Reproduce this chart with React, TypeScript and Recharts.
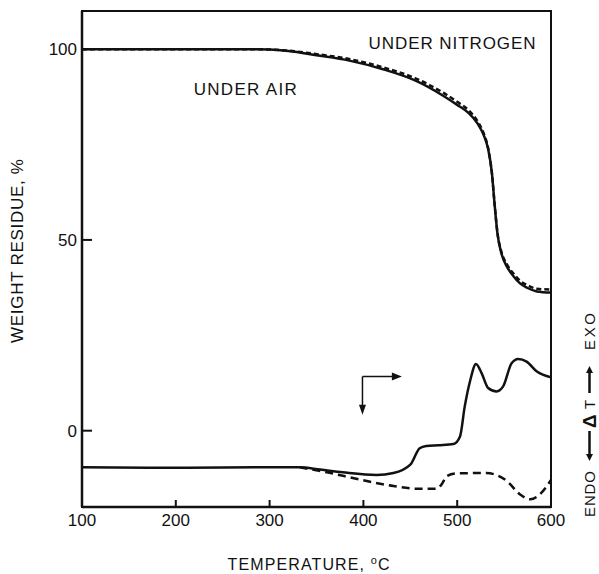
import {
  LineChart, Line, XAxis, YAxis, ReferenceArea, ReferenceLine, ReferenceDot,
} from "recharts";

const TGA_TEMP = [100, 200, 280, 300, 320, 350, 385, 420, 455, 485, 500, 512, 522, 528, 533, 537, 540, 543, 547, 553, 560, 567, 575, 585, 600];
const TGA_AIR = [100, 100, 100, 99.9, 99.5, 98.4, 97.0, 94.8, 91.8, 87.8, 85.4, 83.3, 80.4, 77.6, 73.8, 67.5, 59.0, 51.5, 46.6, 43.0, 40.5, 38.6, 37.4, 36.5, 36.2];
const TGA_N2 = [100, 100, 100, 99.9, 99.6, 98.7, 97.4, 95.3, 92.4, 88.6, 86.2, 84.0, 81.0, 78.1, 74.0, 67.5, 59.0, 51.7, 47.0, 43.6, 41.2, 39.3, 38.1, 37.2, 37.0];

const DTA_AIR_TEMP = [100, 200, 300, 332, 354, 378, 414, 432, 450, 460, 467, 480, 496, 503, 508, 514, 520, 526, 533, 542, 549, 558, 565, 574, 585, 600];
const DTA_AIR = [-9.6, -9.7, -9.6, -9.6, -10.2, -10.9, -11.6, -11.1, -8.9, -4.6, -4.0, -3.8, -3.5, -1.5, 6.3, 13.3, 17.5, 15.1, 11.2, 10.3, 11.6, 17.7, 18.8, 18.1, 15.5, 14.0];

const DTA_N2_TEMP = [332, 361, 396, 432, 457, 478, 483, 489, 499, 531, 553, 567, 578, 588, 600];
const DTA_N2 = [-9.6, -10.9, -12.8, -14.5, -15.2, -15.2, -14.2, -11.9, -11.2, -11.1, -13.2, -16.7, -18.0, -16.7, -12.9];

const X_TICKS = [100, 200, 300, 400, 500, 600];
const Y_TICKS = [0, 50, 100];

const FONT = "'Liberation Sans', Arial, sans-serif";
const INK = "#111";

const zip = (xs: number[], ys: number[]) => xs.map((t, i) => ({ t, v: ys[i] }));

// ─── Axis titles ──────────────────────────────────────────────────────────────
const XTitle = ({ viewBox }: any) => (
  <text
    x={viewBox.x + viewBox.width / 2 - 8}
    y={viewBox.y + 63}
    textAnchor="middle"
    fontSize={16}
    fontFamily={FONT}
    fill={INK}
    textLength={162}
  >
    TEMPERATURE, <tspan dy={-6} fontSize={11}>o</tspan><tspan dy={6}>C</tspan>
  </text>
);

const YTitle = () => (
  <text
    x={0}
    y={0}
    transform="translate(23, 251) rotate(-90)"
    textAnchor="middle"
    fontSize={17}
    fontFamily={FONT}
    fill={INK}
    textLength={184}
  >
    WEIGHT RESIDUE, %
  </text>
);

// ENDO ← ΔT → EXO, read bottom to top; arrows drawn as thick strokes like the scan
const RightTitle = () => {
  const t = { fontSize: 15, fontFamily: FONT, fill: INK };
  return (
    <g transform="translate(595, 417) rotate(-90)">
      <text x={-100} y={0} {...t} textLength={46}>ENDO</text>
      <line x1={-14} y1={-5.5} x2={-38} y2={-5.5} stroke={INK} strokeWidth={2.5} />
      <polygon points="-44,-5.5 -37,-9 -37,-2" fill={INK} />
      <text x={-11} y={1} fontSize={19} fontWeight="bold" fontFamily={FONT} fill={INK}>Δ</text>
      <text x={8} y={0} {...t}>T</text>
      <line x1={24} y1={-5.5} x2={45} y2={-5.5} stroke={INK} strokeWidth={2.5} />
      <polygon points="51,-5.5 44,-9 44,-2" fill={INK} />
      <text x={67} y={0} {...t} textLength={37}>EXO</text>
    </g>
  );
};

// ─── Annotation helpers ──────────────────────────────────────────────────────
const note = (value: string, width: number) => (p: any) => (
  <text
    x={p.cx}
    y={p.cy}
    textAnchor="middle"
    dominantBaseline="central"
    fontSize={17}
    fontFamily={FONT}
    fill={INK}
    textLength={width}
  >
    {value}
  </text>
);

const headRight = (p: any) => (
  <polygon points={`${p.cx},${p.cy} ${p.cx - 10},${p.cy - 4} ${p.cx - 10},${p.cy + 4}`} fill={INK} />
);
const headDown = (p: any) => (
  <polygon points={`${p.cx},${p.cy} ${p.cx - 3.5},${p.cy - 10} ${p.cx + 3.5},${p.cy - 10}`} fill={INK} />
);

// ─── Component ────────────────────────────────────────────────────────────────
export default function App() {
  return (
    <div style={{ position: "absolute", left: 0, top: 0, background: "#fff" }}>
      <LineChart width={599} height={574} margin={{ top: 11, right: 0, bottom: 0, left: 0 }}>
        <XAxis
          dataKey="t"
          type="number"
          domain={[100, 600]}
          ticks={X_TICKS}
          allowDataOverflow
          height={67}
          tickSize={-7}
          tickMargin={14}
          axisLine={{ stroke: INK, strokeWidth: 2.5 }}
          tickLine={{ stroke: INK, strokeWidth: 2 }}
          tick={{ fontSize: 17, fill: INK, fontFamily: FONT }}
          label={<XTitle />}
        />
        <YAxis
          type="number"
          domain={[-20, 110]}
          ticks={Y_TICKS}
          allowDataOverflow
          width={82}
          tickSize={-10}
          tickMargin={15}
          axisLine={{ stroke: INK, strokeWidth: 2.5 }}
          tickLine={{ stroke: INK, strokeWidth: 2 }}
          tick={{ fontSize: 17, fill: INK, fontFamily: FONT }}
          label={<YTitle />}
        />
        <YAxis
          yAxisId="r"
          orientation="right"
          type="number"
          domain={[0, 1]}
          width={48}
          tick={false}
          tickLine={false}
          axisLine={false}
          label={<RightTitle />}
        />

        <ReferenceArea x1={100} x2={600} y1={-20} y2={110} fill="none" stroke={INK} strokeWidth={2} />

        <Line data={zip(TGA_TEMP, TGA_N2)} dataKey="v" type="monotone" stroke={INK} strokeWidth={2.5}
          strokeDasharray="5 3" dot={false} isAnimationActive={false} />
        <Line data={zip(TGA_TEMP, TGA_AIR)} dataKey="v" type="monotone" stroke={INK} strokeWidth={2.5}
          dot={false} isAnimationActive={false} />
        <Line data={zip(DTA_N2_TEMP, DTA_N2)} dataKey="v" type="monotone" stroke={INK} strokeWidth={2.5}
          strokeDasharray="8 5" dot={false} isAnimationActive={false} />
        <Line data={zip(DTA_AIR_TEMP, DTA_AIR)} dataKey="v" type="monotone" stroke={INK} strokeWidth={2.5}
          dot={false} isAnimationActive={false} />

        <ReferenceDot x={494.5} y={101.6} r={0} shape={note("UNDER NITROGEN", 167)} />
        <ReferenceDot x={274} y={89.3} r={0} shape={note("UNDER AIR", 103)} />

        <ReferenceLine segment={[{ x: 399, y: 14.2 }, { x: 436, y: 14.2 }]} stroke={INK} strokeWidth={1.5} />
        <ReferenceLine segment={[{ x: 399, y: 14.2 }, { x: 399, y: 6 }]} stroke={INK} strokeWidth={1.5} />
        <ReferenceDot x={441} y={14.2} r={0} shape={headRight} />
        <ReferenceDot x={399} y={4.2} r={0} shape={headDown} />
      </LineChart>
    </div>
  );
}
